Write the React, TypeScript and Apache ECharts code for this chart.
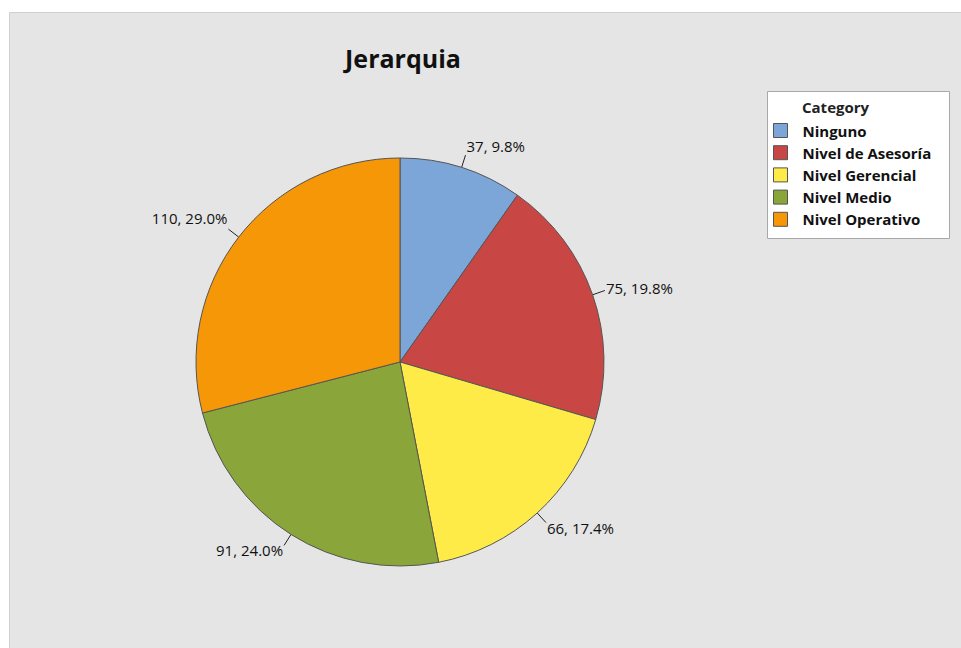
import React, { useEffect, useRef } from "react";
import * as echarts from "echarts";

const categories = ["Ninguno", "Nivel de Asesoría", "Nivel Gerencial", "Nivel Medio", "Nivel Operativo"];
const counts = [37, 75, 66, 91, 110];
const colors = ["#7da6d8", "#c84745", "#ffeb47", "#8aa63a", "#f59706"];

const FONT = "'Open Sans', 'Noto Sans', sans-serif";

export default function App() {
  const ref = useRef<HTMLDivElement>(null);
  useEffect(() => {
    document.body.style.margin = "0";
    const chart = echarts.init(ref.current!, null, { renderer: "svg" });
    const data = categories.map((name, i) => ({
      name,
      value: counts[i],
      itemStyle: { color: colors[i] },
    }));
    chart.setOption({
      animation: false,
      backgroundColor: "#ffffff",
      textStyle: { fontFamily: FONT },
      graphic: [
        {
          type: "rect",
          shape: { x: 9.5, y: 12.5, width: 960, height: 640 },
          style: { fill: "#e5e5e5", stroke: "#d0d0d0", lineWidth: 1 },
          z: -10,
        },
        {
          type: "rect",
          shape: { x: 767.5, y: 91.5, width: 182, height: 147 },
          style: { fill: "#ffffff", stroke: "#a8a8a8", lineWidth: 1 },
          z: -5,
        },
        {
          type: "text",
          x: 802,
          y: 107,
          style: {
            text: "Category",
            font: `bold 15px ${FONT}`,
            fill: "#222",
            textVerticalAlign: "middle",
          },
        },
      ],
      title: {
        text: "Jerarquia",
        left: 398,
        top: 40,
        textAlign: "center",
        textStyle: { fontSize: 25, fontWeight: "bold", color: "#111", fontFamily: FONT },
      },
      legend: {
        orient: "vertical",
        left: 773,
        top: 123,
        padding: 0,
        itemWidth: 14,
        itemHeight: 14,
        itemGap: 7.2,
        icon: "rect",
        itemStyle: { borderColor: "#555", borderWidth: 1 },
        textStyle: {
          fontSize: 15,
          fontWeight: "bold",
          color: "#111",
          fontFamily: FONT,
          padding: [0, 0, 0, 10],
        },
        data: categories,
      },
      series: [
        {
          type: "pie",
          center: [400, 362],
          radius: 204,
          startAngle: 90,
          clockwise: true,
          data,
          itemStyle: { borderColor: "#555", borderWidth: 1 },
          label: {
            show: true,
            position: "outside",
            fontSize: 15,
            color: "#111",
            fontFamily: FONT,
            distanceToLabelLine: 1,
            formatter: (p: any) => `${p.value}, ${p.percent.toFixed(1)}%`,
          },
          labelLine: {
            show: true,
            length: 13,
            length2: 0,
            smooth: false,
            lineStyle: { color: "#222", width: 1 },
          },
          labelLayout: (params: any) => {
            const pts = params.labelLinePoints;
            if (!pts || pts.length < 2) return {};
            const dyLine = pts[pts.length - 1][1] - pts[0][1];
            const dxLine = pts[pts.length - 1][0] - pts[0][0];
            const len = Math.sqrt(dxLine * dxLine + dyLine * dyLine) || 1;
            const s = dyLine / len;
            if (s < -0.8) return { dy: -9 };
            if (s < -0.5) return { dy: -11 };
            if (s > 0.5) return { dy: 5 };
            return { dy: -3 };
          },
          emphasis: { disabled: true },
        },
      ],
    });
    return () => chart.dispose();
  }, []);
  return <div ref={ref} style={{ width: 961, height: 648 }} />;
}
